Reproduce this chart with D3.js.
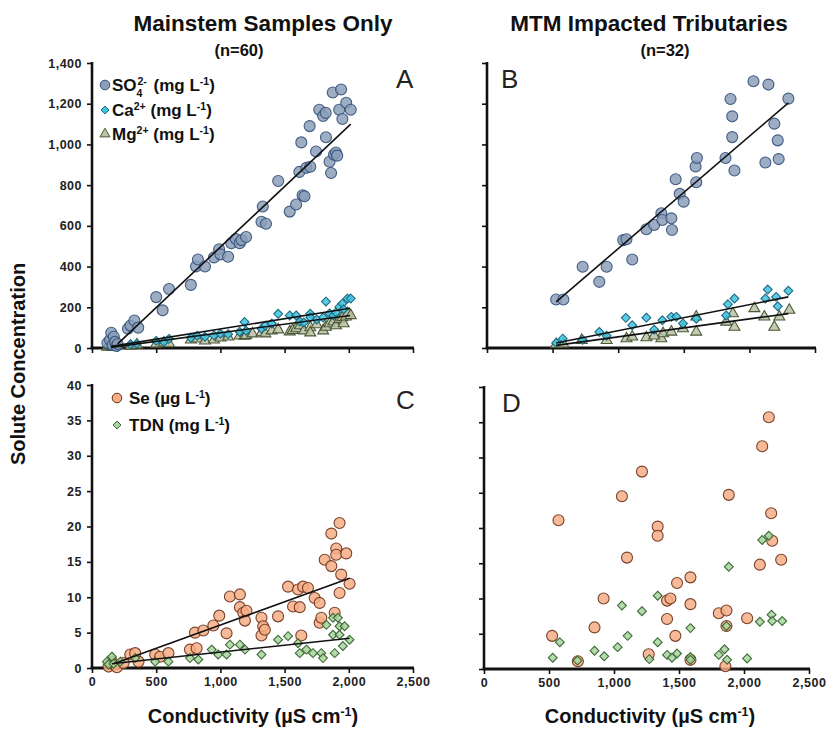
<!DOCTYPE html>
<html><head><meta charset="utf-8">
<script src="https://cdn.jsdelivr.net/npm/d3@7"></script>
<style>body{margin:0;background:#fff}svg{display:block}text{font-family:"Liberation Sans",Arial,sans-serif}</style>
</head><body>
<svg id="c" width="833" height="733"></svg>
<script>
// ---------- DATA ----------
const xTicks = [0, 500, 1000, 1500, 2000, 2500];
const yTicksTop = [0, 200, 400, 600, 800, 1000, 1200, 1400];
const yTicksBottom = [0, 5, 10, 15, 20, 25, 30, 35, 40];

// Panel A (mainstem) [conductivity, concentration]
const so4A = [[120,25],[140,40],[150,75],[160,15],[170,55],[180,30],[190,10],[200,20],[280,95],[300,110],[330,135],[360,100],
[500,250],[550,185],[600,290],[770,310],[810,400],[825,435],[880,400],[950,445],[990,485],[1000,460],[1060,448],[1085,515],
[1120,535],[1150,515],[1165,530],[1200,545],[1320,620],[1330,695],[1355,610],[1450,820],[1540,670],[1590,705],[1615,865],
[1630,1010],[1640,750],[1655,745],[1670,885],[1695,1090],[1700,890],[1745,965],[1770,1170],[1800,1140],[1820,1155],
[1822,1035],[1850,915],[1862,860],[1875,1255],[1885,950],[1900,960],[1910,945],[1925,1170],[1940,1270],[1950,1125],
[1980,1205],[2015,1170]];
const caA = [[130,12],[150,20],[170,8],[190,15],[200,5],[300,18],[350,22],[500,35],[560,30],[600,45],[770,50],[820,60],
[880,55],[950,62],[1000,70],[1060,68],[1150,80],[1188,128],[1200,85],[1320,95],[1350,110],[1400,120],[1450,168],[1540,160],
[1590,160],[1620,130],[1650,125],[1700,168],[1700,150],[1750,140],[1800,150],[1822,228],[1850,170],[1880,160],[1900,175],
[1926,202],[1950,218],[1960,190],[1990,243],[2015,243]];
const mgA = [[120,5],[140,10],[160,3],[180,8],[200,12],[300,10],[350,15],[500,20],[560,25],[600,22],[770,40],[820,45],
[880,35],[950,40],[1000,50],[1060,55],[1150,60],[1188,59],[1200,62],[1250,70],[1320,75],[1350,70],[1400,85],[1450,90],
[1540,80],[1563,87],[1590,95],[1620,110],[1650,85],[1700,100],[1700,75],[1750,115],[1800,85],[1822,103],[1850,120],
[1880,130],[1900,110],[1926,140],[1950,150],[1960,120],[1978,153],[1990,170],[2015,160]];

// Panel B (MTM tributaries)
const so4B = [[527,238],[582,238],[729,399],[856,325],[912,399],[1038,530],[1063,534],[1107,435],[1215,583],[1274,604],
[1329,662],[1337,629],[1405,637],[1410,580],[1438,829],[1469,757],[1499,719],[1590,892],[1595,814],[1600,933],[1818,933],
[1856,1223],[1869,1138],[1869,1036],[1886,872],[2031,1310],[2122,911],[2145,1294],[2190,1102],[2216,1020],[2223,928],[2297,1225]];
const caB = [[527,25],[577,46],[856,79],[1058,148],[1107,112],[1215,149],[1337,136],[1405,153],[1443,153],[1494,120],
[1595,144],[1836,215],[1886,243],[1823,160],[2122,243],[2140,287],[2203,251],[2216,205],[2297,281],[1274,90],[912,60],[729,40]];
const mgB = [[527,18],[722,38],[912,38],[1063,46],[1215,51],[1329,46],[1342,71],[1405,79],[1494,95],[1595,79],[1595,153],
[1823,128],[1874,169],[1886,103],[2038,194],[2114,153],[2190,103],[2228,153],[2304,186],[582,20],[1107,55],[1274,60]];

// Panel C (mainstem)
const seC = [[129,0.2],[155,0.9],[168,0.5],[194,0.1],[246,0.7],[298,1.9],[336,2.1],[362,0.9],[492,1.9],[530,1.6],[595,2.1],
[763,2.6],[802,5.0],[815,2.8],[867,5.3],[945,6.0],[991,7.4],[1048,4.9],[1074,10.1],[1152,10.4],[1152,8.6],[1178,7.8],
[1191,6.7],[1203,8.1],[1320,7.1],[1320,4.6],[1333,5.9],[1346,5.4],[1449,7.3],[1527,11.5],[1566,8.7],[1605,11.1],[1618,8.6],
[1630,4.6],[1644,11.5],[1682,11.3],[1734,9.9],[1773,9.2],[1773,6.4],[1786,7.1],[1812,15.3],[1864,14.4],[1864,19.0],
[1890,7.8],[1902,16.9],[1902,16.0],[1928,20.5],[1928,10.6],[1941,13.2],[1980,16.2],[2006,11.9]];
const tdnC = [[116,0.9],[129,0.5],[155,1.6],[168,0.6],[220,0.9],[336,1.4],[492,0.9],[595,0.9],[763,1.4],[828,1.2],[932,2.6],
[983,1.9],[1048,1.9],[1074,3.3],[1152,3.3],[1191,2.6],[1320,1.9],[1449,4.0],[1527,4.5],[1605,3.5],[1618,2.1],[1670,2.6],
[1721,2.1],[1786,2.1],[1799,1.4],[1825,6.1],[1877,7.1],[1877,4.7],[1890,2.1],[1915,7.1],[1928,5.9],[1928,4.7],[1954,3.1],
[1967,5.9],[2006,4.0]];

// Panel D (MTM tributaries)
const seD = [[524,4.7],[573,21.1],[722,1.1],[850,5.9],[920,10.0],[1061,24.5],[1100,15.8],[1215,28.0],[1267,2.1],[1336,20.2],
[1336,18.9],[1408,9.7],[1408,7.1],[1434,10.0],[1472,4.7],[1485,12.2],[1588,13.0],[1588,9.2],[1588,1.3],[1806,7.9],
[1865,8.3],[1865,6.1],[1857,0.4],[1883,24.7],[2024,7.2],[2122,14.8],[2140,31.6],[2191,35.7],[2209,22.1],[2217,18.2],[2286,15.5]];
const tdnD = [[529,1.6],[583,3.8],[719,1.2],[850,2.6],[925,1.8],[1028,3.1],[1061,9.0],[1105,4.7],[1215,8.2],[1272,1.4],
[1336,10.4],[1336,3.8],[1408,2.0],[1446,1.6],[1485,2.2],[1588,5.8],[1588,1.7],[1588,1.3],[1806,2.0],[1850,2.8],[1865,6.1],
[1870,1.3],[1883,14.5],[2024,1.5],[2122,6.7],[2140,18.3],[2191,18.9],[2212,7.7],[2217,6.8],[2294,6.8]];

// Regression lines [x0, y0, x1, y1]
const fitSo4A = [200, 20, 2015, 1100];
const fitCaA = [150, 8, 2010, 195];
const fitMgA = [150, 3, 2010, 160];
const fitSo4B = [527, 227, 2297, 1204];
const fitCaB = [527, 25, 2297, 251];
const fitMgB = [527, 13, 2297, 169];
const fitSeC = [168, 0.6, 2006, 12.7];
const fitTdnC = [155, 0.6, 2006, 4.2];

// ---------- STYLE ----------
const sty = {
  so4: {fill:"#8c9fb9", stroke:"#33507a", shape:"circle"},
  ca:  {fill:"#3ec3e0", stroke:"#1d6a82", shape:"diamond"},
  mg:  {fill:"#b9c3a6", stroke:"#4c5838", shape:"triangle"},
  se:  {fill:"#f6ae86", stroke:"#6a3016", shape:"circle"},
  tdn: {fill:"#a8d59f", stroke:"#3b6a34", shape:"diamond"}
};
const svg = d3.select("#c");

function symPath(shape){
  if(shape==="diamond") return d3.symbol(d3.symbolDiamond2, 50)();
  return d3.symbol(d3.symbolTriangle, 52)();
}

function panel(o){
  const x = d3.scaleLinear().domain([0,2500]).range(o.xr);
  const y = d3.scaleLinear().domain(o.yd).range(o.yr);
  const g = svg.append("g");
  const xa = g.append("g").attr("transform",`translate(0,${o.yr[0]})`)
    .call(d3.axisBottom(x).tickValues(xTicks).tickSize(5).tickPadding(4)
      .tickFormat(o.xLabels ? d3.format(",") : ""));
  const ya = g.append("g").attr("transform",`translate(${o.xr[0]},0)`)
    .call(d3.axisLeft(y).tickValues(o.yt).tickSize(5).tickPadding(5)
      .tickFormat(o.yLabels ? d3.format(",") : ""));
  [xa,ya].forEach(a=>{
    a.select(".domain").remove();
    a.selectAll(".tick line").attr("stroke","#111").attr("stroke-width",1.6);
    a.selectAll(".tick text").attr("fill","#222").style("font-size","12.5px").style("font-weight","bold").style("letter-spacing","0.5px");
  });
  g.append("line").attr("x1",o.xr[0]).attr("x2",o.xr[0]).attr("y1",y(o.yd[0])+1).attr("y2",y(o.yd[1])-1)
    .attr("stroke","#111").attr("stroke-width",2.6);
  g.append("line").attr("x1",o.xr[0]-1.3).attr("x2",x(2500)+1).attr("y1",o.yr[0]).attr("y2",o.yr[0])
    .attr("stroke","#111").attr("stroke-width",3.2);
  o.series.forEach(s=>{
    const st = sty[s.key];
    const sel = g.append("g").selectAll("x").data(s.data).enter();
    if(st.shape==="circle"){
      sel.append("circle").attr("cx",d=>x(d[0])).attr("cy",d=>y(d[1])).attr("r",5.5)
        .attr("fill",st.fill).attr("fill-opacity",0.85).attr("stroke",st.stroke).attr("stroke-width",1.1).attr("stroke-opacity",0.9);
    } else {
      sel.append("path").attr("d",symPath(st.shape))
        .attr("transform",d=>`translate(${x(d[0])},${y(d[1])})`)
        .attr("fill",st.fill).attr("fill-opacity",0.85).attr("stroke",st.stroke).attr("stroke-width",1.1);
    }
  });
  (o.fits||[]).forEach(f=>{
    g.append("line").attr("x1",x(f[0])).attr("y1",y(f[1])).attr("x2",x(f[2])).attr("y2",y(f[3]))
      .attr("stroke","#111").attr("stroke-width",1.6);
  });
  g.append("text").attr("x",o.letter[1]).attr("y",o.letter[2]).text(o.letter[0])
    .style("font-size","26px").attr("fill","#222");
  return {x,y,g};
}

panel({xr:[92,413], yr:[348,63], yd:[0,1400], yt:yTicksTop, xLabels:false, yLabels:true,
  series:[{key:"mg",data:mgA},{key:"ca",data:caA},{key:"so4",data:so4A}],
  fits:[fitSo4A,fitCaA,fitMgA], letter:["A",396,88]});
panel({xr:[487,815], yr:[348,63], yd:[0,1400], yt:yTicksTop, xLabels:false, yLabels:false,
  series:[{key:"mg",data:mgB},{key:"ca",data:caB},{key:"so4",data:so4B}],
  fits:[fitSo4B,fitCaB,fitMgB], letter:["B",501,88]});
panel({xr:[92,413], yr:[668,385], yd:[0,40], yt:yTicksBottom, xLabels:true, yLabels:true,
  series:[{key:"se",data:seC},{key:"tdn",data:tdnC}],
  fits:[fitSeC,fitTdnC], letter:["C",396,409]});
panel({xr:[484,809], yr:[669,387], yd:[0,40], yt:yTicksBottom, xLabels:true, yLabels:false,
  series:[{key:"se",data:seD},{key:"tdn",data:tdnD}],
  fits:[], letter:["D",502,412]});

// ---------- TEXT ----------
function T(x,y,size,anchor,parts,weight){
  const t = svg.append("text").attr("x",x).attr("y",y).attr("text-anchor",anchor)
    .style("font-size",size+"px").style("font-weight",weight||"bold").attr("fill","#111");
  parts.forEach(p=>{
    const ts = t.append("tspan").text(p.t);
    if(p.s){ ts.attr("baseline-shift", p.s).style("font-size", (size*0.62)+"px"); }
    if(p.dx) ts.attr("dx",p.dx);
  });
  return t;
}
T(263,31,22.5,"middle",[{t:"Mainstem Samples Only"}]);
T(239,56,16.5,"middle",[{t:"(n=60)"}]);
T(649,31,22.5,"middle",[{t:"MTM Impacted Tributaries"}]);
T(665,56,16.5,"middle",[{t:"(n=32)"}]);

svg.append("text").attr("transform","translate(25,364) rotate(-90)").attr("text-anchor","middle")
  .style("font-size","20px").style("font-weight","bold").attr("fill","#111").text("Solute Concentration");

[253,650].forEach(cx=>{
  T(cx,723,20,"middle",[{t:"Conductivity (µS cm"},{t:"-1",s:"super"},{t:")"}]);
});

const lgA = [
  {key:"so4", y:85, parts:[{t:"SO"},{t:"4",s:"sub"},{t:"2-",s:"super",dx:-5},{t:"  (mg L",dx:2},{t:"-1",s:"super"},{t:")"}]},
  {key:"ca", y:110, parts:[{t:"Ca"},{t:"2+",s:"super"},{t:"  (mg L"},{t:"-1",s:"super"},{t:")"}]},
  {key:"mg", y:134, parts:[{t:"Mg"},{t:"2+",s:"super"},{t:" (mg L"},{t:"-1",s:"super"},{t:")"}]}
];
const lgC = [
  {key:"se", y:398, parts:[{t:"Se (µg L"},{t:"-1",s:"super"},{t:")"}]},
  {key:"tdn", y:425, parts:[{t:"TDN (mg L"},{t:"-1",s:"super"},{t:")"}]}
];
function legend(items, sx, tx){
  items.forEach(it=>{
    const st = sty[it.key];
    if(st.shape==="circle"){
      svg.append("circle").attr("cx",sx).attr("cy",it.y).attr("r",4.8).attr("fill",st.fill).attr("stroke",st.stroke).attr("stroke-width",1);
    } else {
      svg.append("path").attr("d", st.shape==="diamond"? d3.symbol(d3.symbolDiamond2,40)() : d3.symbol(d3.symbolTriangle,44)())
        .attr("transform",`translate(${sx},${it.y})`).attr("fill",st.fill).attr("stroke",st.stroke).attr("stroke-width",1);
    }
    T(tx, it.y+6, 17, "start", it.parts);
  });
}
legend(lgA, 105, 112);
legend(lgC, 117, 129);
</script>
</body></html>
